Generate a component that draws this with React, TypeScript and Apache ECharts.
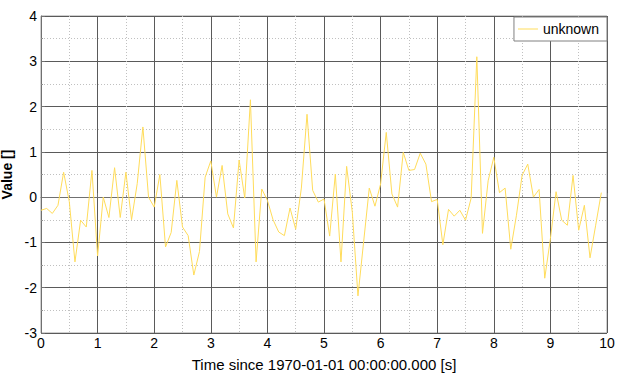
import React, { useEffect, useRef } from "react";
import * as echarts from "echarts";

const seriesName = "unknown";
const xAxisTitle = "Time since 1970-01-01 00:00:00.000 [s]";
const yAxisTitle = "Value []";

const times = [
  0.0, 0.1, 0.2, 0.3, 0.4, 0.5, 0.6, 0.7, 0.8, 0.9,
  1.0, 1.1, 1.2, 1.3, 1.4, 1.5, 1.6, 1.7, 1.8, 1.9,
  2.0, 2.1, 2.2, 2.3, 2.4, 2.5, 2.6, 2.7, 2.8, 2.9,
  3.0, 3.1, 3.2, 3.3, 3.4, 3.5, 3.6, 3.7, 3.8, 3.9,
  4.0, 4.1, 4.2, 4.3, 4.4, 4.5, 4.6, 4.7, 4.8, 4.9,
  5.0, 5.1, 5.2, 5.3, 5.4, 5.5, 5.6, 5.7, 5.8, 5.9,
  6.0, 6.1, 6.2, 6.3, 6.4, 6.5, 6.6, 6.7, 6.8, 6.9,
  7.0, 7.1, 7.2, 7.3, 7.4, 7.5, 7.6, 7.7, 7.8, 7.9,
  8.0, 8.1, 8.2, 8.3, 8.4, 8.5, 8.6, 8.7, 8.8, 8.9,
  9.0, 9.1, 9.2, 9.3, 9.4, 9.5, 9.6, 9.7, 9.8, 9.9,
];

const values = [
  -0.29, -0.25, -0.36, -0.18, 0.55, -0.1, -1.43, -0.51, -0.66, 0.59,
  -1.3, 0.0, -0.45, 0.65, -0.45, 0.55, -0.5, 0.3, 1.55, 0.0,
  -0.22, 0.5, -1.1, -0.78, 0.37, -0.66, -0.85, -1.72, -1.2, 0.44,
  0.8, 0.0, 0.7, -0.37, -0.68, 0.82, -0.02, 2.15, -1.43, 0.18,
  -0.07, -0.5, -0.77, -0.85, -0.24, -0.71, 0.2, 1.83, 0.15, -0.11,
  -0.04, -0.86, 0.51, -1.43, 0.68, -0.33, -2.18, -0.99, 0.2, -0.2,
  0.29, 1.43, 0.07, -0.22, 0.99, 0.59, 0.61, 0.97, 0.73, -0.1,
  -0.05, -1.05, -0.27, -0.42, -0.29, -0.51, -0.02, 3.1, -0.8, 0.36,
  0.88, 0.1, 0.2, -1.15, -0.4, 0.48, 0.73, 0.0, 0.17, -1.79,
  -0.92, 0.12, -0.51, -0.62, 0.48, -0.73, -0.18, -1.34, -0.62, 0.1,
];

const FONT = "'Liberation Sans', Arial, Helvetica, sans-serif";

export default function App() {
  const ref = useRef<HTMLDivElement>(null);

  useEffect(() => {
    if (!ref.current) return;
    const chart = echarts.init(ref.current, undefined, { renderer: "svg" });
    const data = times.map((t, i) => [t, values[i]]);
    chart.setOption({
      animation: false,
      backgroundColor: "#ffffff",
      textStyle: { fontFamily: FONT },
      grid: {
        left: 41,
        right: 22,
        top: 16,
        bottom: 47,
        containLabel: false,
        outerBoundsMode: "none",
        show: true,
        borderColor: "#a0a0a0",
        borderWidth: 1,
        backgroundColor: "#ffffff",
      },
      legend: {
        data: [{ name: seriesName, icon: "rect" }],
        right: 22,
        top: 17,
        itemWidth: 20,
        itemHeight: 1,
        itemGap: 4,
        padding: [5, 8, 5, 4],
        borderColor: "#808080",
        borderWidth: 1,
        backgroundColor: "#ffffff",
        textStyle: { fontFamily: FONT, fontSize: 14, color: "#000" },
      },
      xAxis: {
        type: "value",
        min: 0,
        max: 10,
        interval: 1,
        name: xAxisTitle,
        nameLocation: "middle",
        nameGap: 24,
        nameTextStyle: { fontFamily: FONT, fontSize: 15, color: "#000" },
        axisLine: { show: true, lineStyle: { color: "#707070", width: 1 } },
        axisTick: { show: true, inside: true, length: 4, lineStyle: { color: "#707070" } },
        minorTick: { show: true, splitNumber: 2, length: 2, lineStyle: { color: "#909090" } },
        axisLabel: { fontFamily: FONT, fontSize: 14, color: "#000", margin: 3 },
        splitLine: { show: true, lineStyle: { color: "#5a5a5a", width: 1 } },
        minorSplitLine: { show: true, lineStyle: { color: "#c0c0c0", type: [1, 2], width: 1 } },
      },
      yAxis: {
        type: "value",
        min: -3,
        max: 4,
        interval: 1,
        name: yAxisTitle,
        nameLocation: "middle",
        nameGap: 19,
        nameTextStyle: { fontFamily: FONT, fontSize: 14, fontWeight: "bold", color: "#000" },
        axisLine: { show: true, lineStyle: { color: "#707070", width: 1 } },
        axisTick: { show: true, inside: true, length: 4, lineStyle: { color: "#707070" } },
        minorTick: { show: true, splitNumber: 2, length: 2, lineStyle: { color: "#909090" } },
        axisLabel: { fontFamily: FONT, fontSize: 14, color: "#000", margin: 4 },
        splitLine: { show: true, lineStyle: { color: "#5a5a5a", width: 1 } },
        minorSplitLine: { show: true, lineStyle: { color: "#c0c0c0", type: [1, 2], width: 1 } },
      },
      series: [
        {
          name: seriesName,
          type: "line",
          data,
          showSymbol: false,
          symbol: "none",
          color: "#ffdc5a",
          lineStyle: { color: "#ffdc5a", width: 1 },
        },
      ],
    });
    return () => chart.dispose();
  }, []);

  return (
    <div
      ref={ref}
      style={{ position: "fixed", left: 0, top: 0, width: 629, height: 380, background: "#fff" }}
    />
  );
}
